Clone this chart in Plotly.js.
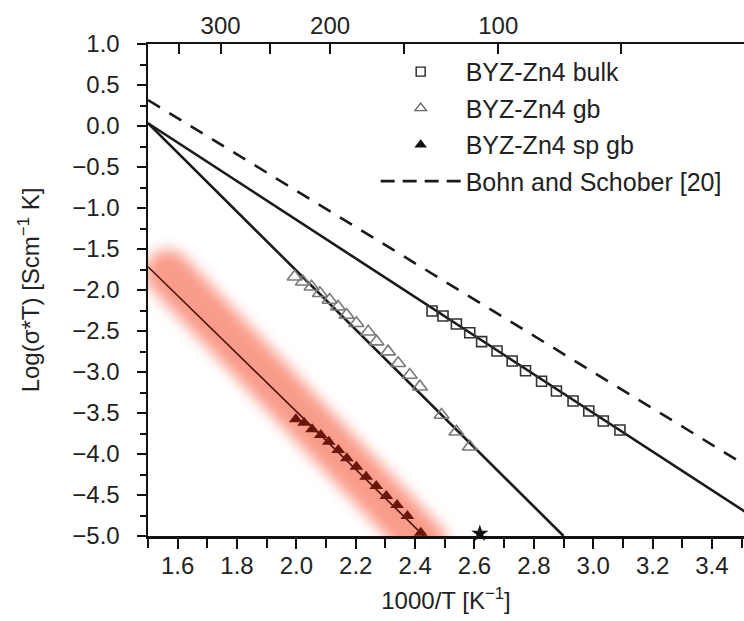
<!DOCTYPE html>
<html>
<head>
<meta charset="utf-8">
<script src="https://cdn.plot.ly/plotly-3.0.1.min.js"></script>
<style>
  html, body { margin: 0; padding: 0; background: #fff; }
  #chart { width: 744px; height: 621px; }
  .traceglow1 path.js-line { stroke-linecap: round; }
</style>
</head>
<body>
<div id="chart"></div>
<script>
// ---- data ----
const bulkX = [2.457, 2.494, 2.539, 2.584, 2.624, 2.676, 2.727, 2.772, 2.826, 2.876, 2.932, 2.985, 3.034, 3.090];
const bulkY = [-2.256, -2.317, -2.415, -2.521, -2.630, -2.744, -2.866, -2.984, -3.113, -3.232, -3.354, -3.476, -3.598, -3.707];

const gbX = [1.994, 2.022, 2.051, 2.079, 2.112, 2.140, 2.169, 2.202, 2.242, 2.270, 2.309, 2.343, 2.382, 2.416, 2.489, 2.539, 2.584];
const gbY = [-1.838, -1.899, -1.960, -2.040, -2.122, -2.204, -2.305, -2.406, -2.509, -2.630, -2.752, -2.894, -3.037, -3.179, -3.524, -3.728, -3.911];

const spX = [1.998, 2.026, 2.053, 2.082, 2.109, 2.141, 2.170, 2.202, 2.235, 2.269, 2.303, 2.339, 2.374, 2.419];
const spY = [-3.577, -3.618, -3.699, -3.768, -3.850, -3.951, -4.052, -4.154, -4.277, -4.390, -4.512, -4.622, -4.756, -4.960];

const bulkFitX = [1.5, 3.51];
const bulkFitY = [0.033, -4.70];
const gbFitX = [1.5, 2.90];
const gbFitY = [0.033, -5.0];
const spFitX = [1.5, 2.43];
const spFitY = [-1.716, -5.0];
const bohnX = [1.5, 3.51];
const bohnY = [0.317, -4.13];

const bandX = [1.567, 2.43];
const bandY = [-1.79, -5.08];

const starX = [2.618];
const starY = [-4.97];

const topTempsC = [350, 300, 250, 200, 150, 100, 50];
const topLabels = ['', '300', '', '200', '', '100', ''];

const legendNames = ['BYZ-Zn4 bulk', 'BYZ-Zn4 gb', 'BYZ-Zn4 sp gb', 'Bohn and Schober [20]'];

// ---- traces ----
const FONT = 'Liberation Sans, Arial, Helvetica, sans-serif';
const TXT = '#222';
const traces = [
  {x: bandX, y: bandY, mode: 'lines', uid: 'glow1',
   line: {color: 'rgb(247,122,100)', width: 46}, opacity: 0.75,
   showlegend: false, hoverinfo: 'skip'},
  {x: bohnX, y: bohnY, mode: 'lines', line: {color: '#1a1a1a', width: 2.6, dash: '14px,11px'},
   showlegend: false, hoverinfo: 'skip'},
  {x: bulkFitX, y: bulkFitY, mode: 'lines', line: {color: '#1a1a1a', width: 2.6}, showlegend: false, hoverinfo: 'skip'},
  {x: gbFitX, y: gbFitY, mode: 'lines', line: {color: '#1a1a1a', width: 2.6}, showlegend: false, hoverinfo: 'skip'},
  {x: spFitX, y: spFitY, mode: 'lines', line: {color: '#4a1208', width: 1.6}, showlegend: false, hoverinfo: 'skip'},
  {x: bulkX, y: bulkY, mode: 'markers', showlegend: false,
   marker: {symbol: 'square-open', size: 10, color: '#333', line: {width: 1.6, color: '#333'}}},
  {x: gbX, y: gbY, mode: 'markers', showlegend: false,
   marker: {symbol: 'triangle-up-open', size: 13, color: '#7a7a7a', line: {width: 1.6, color: '#7a7a7a'}}},
  {x: spX, y: spY, mode: 'markers', showlegend: false,
   marker: {symbol: 'triangle-up', size: 12, color: '#6a160a', line: {width: 0}}},
  {x: starX, y: starY, mode: 'markers', showlegend: false, cliponaxis: false,
   marker: {symbol: 'star', size: 13, color: '#111', line: {width: 0}}},
  // legend-only entries
  {x: [null], y: [null], mode: 'markers', name: legendNames[0], legendgroup: 'a',
   marker: {symbol: 'square-open', size: 9, color: '#222', line: {width: 1.4, color: '#222'}}},
  {x: [null], y: [null], mode: 'markers', name: legendNames[1], legendgroup: 'b',
   marker: {symbol: 'triangle-up-open', size: 10, color: '#666', line: {width: 1.4, color: '#666'}}},
  {x: [null], y: [null], mode: 'markers', name: legendNames[2], legendgroup: 'c',
   marker: {symbol: 'triangle-up', size: 11, color: '#111'}},
  {x: [null], y: [null], mode: 'lines', name: legendNames[3], legendgroup: 'd',
   line: {color: '#1a1a1a', width: 2.6, dash: '14px,8px'}},
  // top axis carrier
  {x: [null], y: [null], xaxis: 'x2', yaxis: 'y', mode: 'markers', showlegend: false, hoverinfo: 'skip'}
];

const topVals = topTempsC.map(t => 1000 / (t + 273.15));

const layout = {
  width: 744, height: 621,
  margin: {l: 148, r: 0, t: 44, b: 85, pad: 0},
  paper_bgcolor: '#fff', plot_bgcolor: '#fff',
  font: {family: FONT, color: TXT, size: 24},
  showlegend: true,
  legend: {
    x: 0.382, y: 0.99, xanchor: 'left', yanchor: 'top',
    bgcolor: 'rgba(0,0,0,0)', borderwidth: 0,
    font: {family: FONT, size: 25, color: TXT},
    tracegroupgap: 1, itemwidth: 80
  },
  xaxis: {
    range: [1.5, 3.508], dtick: 0.2, tick0: 0, tickformat: '.1f',
    ticks: 'outside', ticklen: 10, tickwidth: 2, tickcolor: '#111',
    minor: {dtick: 0.1, ticks: 'outside', ticklen: 9, tickwidth: 2, tickcolor: '#111'},
    showline: true, linewidth: 2.5, linecolor: '#111', mirror: false,
    showgrid: false, zeroline: false,
    ticklabelstandoff: -3,
    tickfont: {family: FONT, size: 24, color: TXT},
    title: {text: '1000/T [K<sup>−1</sup>]', font: {family: FONT, size: 24, color: TXT}, standoff: 14}
  },
  xaxis2: {
    overlaying: 'x', side: 'top', range: [1.5, 3.508],
    tickmode: 'array', tickvals: topVals, ticktext: topLabels,
    ticks: 'inside', ticklen: 10, tickwidth: 2, tickcolor: '#111',
    showline: true, linewidth: 2.5, linecolor: '#111',
    showgrid: false, zeroline: false,
    ticklabelstandoff: -2,
    tickfont: {family: FONT, size: 24, color: TXT}
  },
  yaxis: {
    range: [-5, 1], dtick: 0.5, tick0: 0, tickformat: '.1f',
    ticks: 'outside', ticklen: 9, tickwidth: 2, tickcolor: '#111',
    minor: {dtick: 0.25, ticks: 'outside', ticklen: 6, tickwidth: 2, tickcolor: '#111'},
    showline: true, linewidth: 2.5, linecolor: '#111',
    showgrid: false, zeroline: false,
    ticklabelstandoff: 12,
    tickfont: {family: FONT, size: 24, color: TXT},
    title: {text: 'Log(σ*T) [Scm<sup>−1</sup> K]', font: {family: FONT, size: 24, color: TXT}, standoff: 26}
  }
};

Plotly.newPlot('chart', traces, layout, {displayModeBar: false, staticPlot: true}).then(gd => {
  // soft glow: blur the highlight band
  const svg = gd.querySelector('svg.main-svg');
  const NS = 'http://www.w3.org/2000/svg';
  let defs = svg.querySelector('defs');
  if (!defs) { defs = document.createElementNS(NS, 'defs'); svg.insertBefore(defs, svg.firstChild); }
  const f = document.createElementNS(NS, 'filter');
  f.setAttribute('id', 'glowblur');
  f.setAttribute('x', '-30%'); f.setAttribute('y', '-30%');
  f.setAttribute('width', '160%'); f.setAttribute('height', '160%');
  const b = document.createElementNS(NS, 'feGaussianBlur');
  b.setAttribute('stdDeviation', '7');
  f.appendChild(b);
  defs.appendChild(f);
  gd.querySelectorAll('.traceglow1 path.js-line').forEach(p => p.setAttribute('filter', 'url(#glowblur)'));
});
</script>
</body>
</html>
